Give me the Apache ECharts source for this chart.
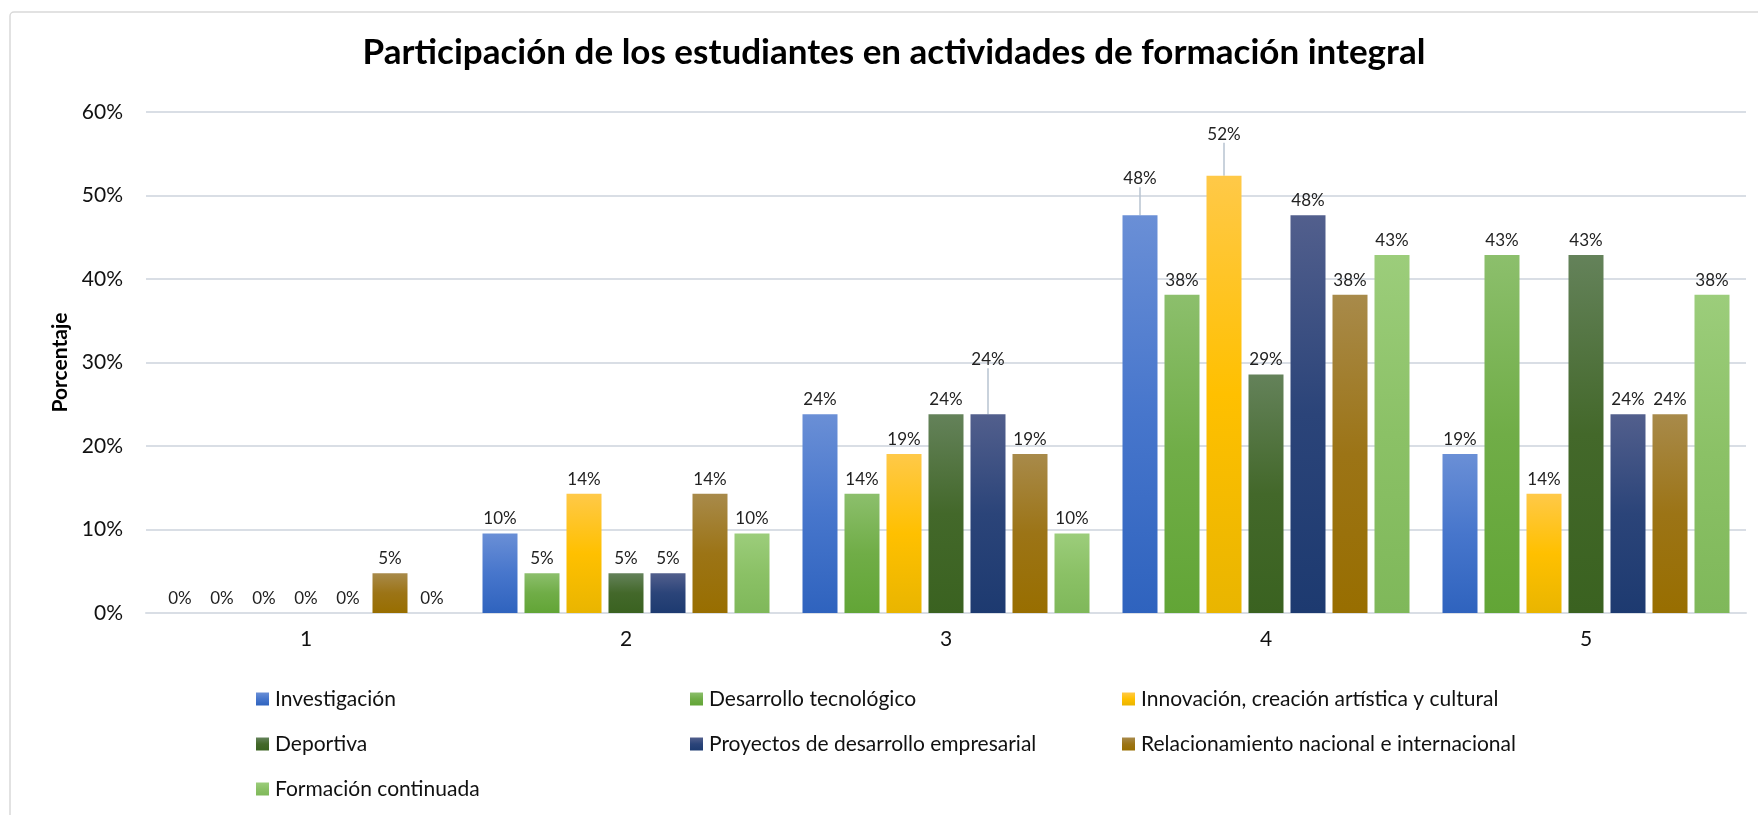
<!DOCTYPE html>
<html>
<head>
<meta charset="utf-8">
<script src="https://cdn.jsdelivr.net/npm/echarts@6/dist/echarts.min.js"></script>
<style>
html,body{margin:0;padding:0;background:#fff;}
#chart{width:1758px;height:815px;}
</style>
</head>
<body>
<div id="chart"></div>
<script>
const titleText = 'Participación de los estudiantes en actividades de formación integral';
const categories = ['1', '2', '3', '4', '5'];
const seriesNames = [
  'Investigación',
  'Desarrollo tecnológico',
  'Innovación, creación artística y cultural',
  'Deportiva',
  'Proyectos de desarrollo empresarial',
  'Relacionamiento nacional e internacional',
  'Formación continuada'
];
const investigacion = [0, 0.0952, 0.2381, 0.4762, 0.1905];
const desarrollo = [0, 0.0476, 0.1429, 0.3810, 0.4286];
const innovacion = [0, 0.1429, 0.1905, 0.5238, 0.1429];
const deportiva = [0, 0.0476, 0.2381, 0.2857, 0.4286];
const proyectos = [0, 0.0476, 0.2381, 0.4762, 0.2381];
const relacionamiento = [0.0476, 0.1429, 0.1905, 0.3810, 0.2381];
const formacion = [0, 0.0952, 0.0952, 0.4286, 0.3810];
const yTicks = [0, 0.1, 0.2, 0.3, 0.4, 0.5, 0.6];

const seriesValues = [investigacion, desarrollo, innovacion, deportiva, proyectos, relacionamiento, formacion];
// gradient colors: [top, middle, bottom]
const palettes = [
  ['#6a8fd6', '#4776cc', '#2f63be'],
  ['#8cbf6c', '#70ad47', '#62a536'],
  ['#ffc948', '#ffc000', '#e9b500'],
  ['#64825a', '#43682a', '#3a6220'],
  ['#525f8d', '#2b4479', '#1d3a70'],
  ['#a88a4a', '#9c7416', '#986e00'],
  ['#9ccd7b', '#8bc166', '#7fb85a']
];
// labels moved up (with leader lines): key seriesIndex-dataIndex -> dy
const labelShift = { '0-3': -22, '2-3': -27, '4-2': -40 };

const FONT = 'Lato, "Open Sans", sans-serif';
const chart = echarts.init(document.getElementById('chart'), null, {renderer: 'canvas'});

const series = seriesNames.map((name, i) => ({
  name: name,
  type: 'bar',
  data: seriesValues[i].map((v, j) => {
    const moved = labelShift[i + '-' + j] !== undefined;
    return {value: v, labelLine: {show: moved}};
  }),
  barWidth: 35,
  barGap: '20%',
  itemStyle: {
    color: new echarts.graphic.LinearGradient(0, 0, 0, 1, [
      {offset: 0, color: palettes[i][0]},
      {offset: 0.5, color: palettes[i][1]},
      {offset: 1, color: palettes[i][2]}
    ])
  },
  label: {
    show: true,
    position: 'top',
    distance: 6,
    color: '#222',
    fontFamily: FONT,
    fontSize: 17,
    formatter: p => Math.round(p.value * 100) + '%'
  },
  labelLine: {
    show: false,
    lineStyle: {color: '#b7c3d1', width: 1.5}
  },
  labelLayout: function (params) {
    const key = i + '-' + params.dataIndex;
    if (labelShift[key] !== undefined) {
      return {dy: labelShift[key]};
    }
    return {};
  }
}));

const legendCols = [
  [seriesNames[0], seriesNames[3], seriesNames[6]],
  [seriesNames[1], seriesNames[4]],
  [seriesNames[2], seriesNames[5]]
];
const legendLefts = [251, 685, 1117];
const legends = legendCols.map((items, k) => ({
  data: items,
  orient: 'vertical',
  left: legendLefts[k],
  top: 681,
  itemWidth: 13,
  itemHeight: 13,
  itemGap: 19,
  icon: 'rect',
  selectedMode: false,
  textStyle: {fontFamily: FONT, fontSize: 21, color: '#111', lineHeight: 26, padding: [0, 0, 0, 1]}
}));

chart.setOption({
  backgroundColor: '#fff',
  animation: false,
  color: palettes.map(p => p[1]),
  title: {
    text: titleText,
    left: 889,
    textAlign: 'center',
    top: 30,
    textStyle: {fontFamily: FONT, fontWeight: 'bold', fontSize: 35, color: '#000'}
  },
  graphic: [{
    type: 'rect',
    shape: {x: 10, y: 12, width: 1800, height: 900, r: 4},
    style: {fill: 'none', stroke: '#d9d9d9', lineWidth: 1.5},
    silent: true,
    z: -10
  }],
  legend: legends,
  grid: {left: 146, right: 12, top: 112, bottom: 202, containLabel: false},
  xAxis: {
    type: 'category',
    data: categories,
    axisLine: {show: true, lineStyle: {color: '#d9dee5', width: 2}},
    axisTick: {show: false},
    axisLabel: {fontFamily: FONT, fontSize: 21, color: '#111', margin: 16}
  },
  yAxis: {
    type: 'value',
    min: 0,
    max: 0.6,
    interval: 0.1,
    name: 'Porcentaje',
    nameLocation: 'middle',
    nameGap: 72,
    nameRotate: 90,
    nameTextStyle: {fontFamily: FONT, fontWeight: 'bold', fontSize: 21, color: '#000'},
    axisLine: {show: false},
    axisTick: {show: false},
    splitLine: {lineStyle: {color: '#d9dee5', width: 2}},
    axisLabel: {
      fontFamily: FONT, fontSize: 21, color: '#111', margin: 23,
      formatter: v => {
        const t = yTicks.find(x => Math.abs(x - v) < 1e-9);
        return Math.round((t !== undefined ? t : v) * 100) + '%';
      }
    }
  },
  series: series
});
</script>
</body>
</html>
